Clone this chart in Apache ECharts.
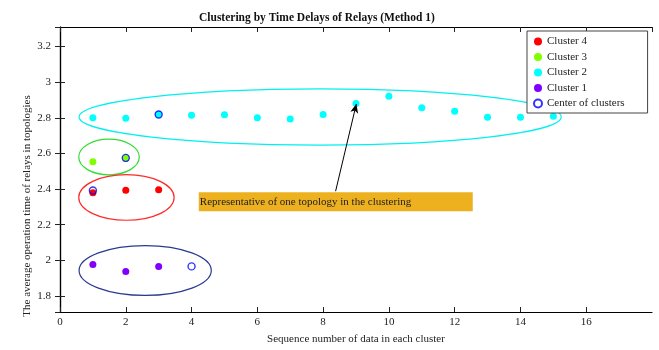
<!DOCTYPE html>
<html>
<head>
<meta charset="utf-8">
<script src="https://cdn.jsdelivr.net/npm/echarts@6/dist/echarts.min.js"></script>
<style>
  html, body { margin: 0; padding: 0; background: #fff; }
  #chart { width: 659px; height: 350px; }
</style>
</head>
<body>
<div id="chart"></div>
<script>
// sequence numbers and average operation times
const cluster4 = [[1, 2.379], [2, 2.393], [3, 2.397]];
const cluster3 = [[1, 2.553], [2, 2.575]];
const cluster2 = [
  [1, 2.800], [2, 2.798], [3, 2.819], [4, 2.815], [5, 2.817],
  [6, 2.800], [7, 2.794], [8, 2.819], [9, 2.880], [10, 2.921],
  [11, 2.856], [12, 2.837], [13, 2.803], [14, 2.803], [15, 2.809]
];
const cluster1 = [[1, 1.976], [2, 1.938], [3, 1.966]];
const centers = [[1, 2.392], [2, 2.575], [3, 2.819], [4, 1.966]];

// ellipses around clusters: [cx, cy, rx, ry, colour]
const ellipses = [
  [7.91, 2.805, 7.33, 0.158, "#00f0f0"],
  [1.49, 2.58, 0.92, 0.1, "#33dd33"],
  [2.02, 2.353, 1.45, 0.128, "#ff2a2a"],
  [2.59, 1.943, 2.01, 0.14, "#2b3a8f"]
];
// annotation box [x0, y0, x1, y1] and arrow tail/head
const noteBox = [[4.22, 2.382, 12.55, 2.275]];
const noteText = "Representative of one topology in the clustering";
const arrowFrom = [8.38, 2.388];
const arrowTo = [9.01, 2.878];

const xTicks = { min: 0, max: 18, interval: 2 };
const yTicks = { min: 1.71, max: 3.31, splitNumber: 8 };

const serif = "Liberation Serif, Times New Roman, serif";
const chart = echarts.init(document.getElementById("chart"));

const dot = (name, data, color) => ({
  name: name,
  type: "scatter",
  data: data,
  symbol: "circle",
  symbolSize: 7,
  itemStyle: { color: color, opacity: 1 },
  z: 3
});

chart.setOption({
  animation: false,
  title: {
    text: "Clustering by Time Delays of Relays (Method 1)",
    left: 194,
    top: 7,
    textStyle: { fontFamily: serif, fontSize: 11.5, fontWeight: "bold", color: "#111" }
  },
  legend: {
    orient: "vertical",
    left: 527,
    top: 31,
    padding: [5, 23, 4, 6],
    itemGap: 4.5,
    itemWidth: 8,
    itemHeight: 8,
    backgroundColor: "#fff",
    borderColor: "#444",
    borderWidth: 1,
    z: 10,
    icon: "circle",
    textStyle: { fontFamily: serif, fontSize: 11, color: "#222", padding: [0, 0, 0, 0] },
    data: ["Cluster 4", "Cluster 3", "Cluster 2", "Cluster 1", "Center of clusters"]
  },
  grid: { left: 60, right: 7, top: 27, bottom: 38 },
  graphic: [{
    type: "text",
    x: 27,
    y: 206,
    rotation: Math.PI / 2,
    style: {
      text: "The average operation time of relays in topologies",
      font: "11px " + serif,
      fill: "#222",
      align: "center",
      verticalAlign: "middle"
    }
  }],
  xAxis: [{
    type: "value",
    min: xTicks.min,
    max: xTicks.max,
    interval: xTicks.interval,
    name: "Sequence number of data in each cluster",
    nameLocation: "middle",
    nameGap: 22,
    nameTextStyle: { fontFamily: serif, fontSize: 11, color: "#222" },
    axisLine: { lineStyle: { color: "#000", width: 1.2 } },
    axisTick: { inside: true, length: 5, lineStyle: { color: "#222" } },
    axisLabel: { fontFamily: serif, fontSize: 11, color: "#222", margin: 5, showMaxLabel: false },
    splitLine: { show: false }
  }, {
    type: "value",
    position: "top",
    min: xTicks.min,
    max: xTicks.max,
    interval: xTicks.interval,
    axisLine: { show: true, lineStyle: { color: "#000", width: 1.2 } },
    axisTick: { inside: true, length: 5, lineStyle: { color: "#222" } },
    axisLabel: { show: false },
    splitLine: { show: false }
  }],
  yAxis: [{
    type: "value",
    min: yTicks.min,
    max: yTicks.max,
    splitNumber: yTicks.splitNumber,
    axisLine: { show: true, lineStyle: { color: "#000", width: 1.2 } },
    axisTick: { inside: true, length: 5, lineStyle: { color: "#222" } },
    axisLabel: { fontFamily: serif, fontSize: 11, color: "#222", margin: 9, showMinLabel: false, showMaxLabel: false },
    splitLine: { show: false }
  }, {
    type: "value",
    position: "right",
    min: yTicks.min,
    max: yTicks.max,
    splitNumber: yTicks.splitNumber,
    axisLine: { show: true, lineStyle: { color: "#000", width: 1.2 } },
    axisTick: { inside: true, length: 5, lineStyle: { color: "#222" } },
    axisLabel: { show: false },
    splitLine: { show: false }
  }],
  series: [
    {
      name: "ellipses",
      type: "custom",
      data: ellipses,
      silent: true,
      z: 2,
      renderItem: function (params, api) {
        const c = api.coord([api.value(0), api.value(1)]);
        const s = api.size([api.value(2), api.value(3)]);
        return {
          type: "ellipse",
          shape: { cx: c[0], cy: c[1], rx: s[0], ry: s[1] },
          style: { fill: "none", stroke: ellipses[params.dataIndex][4], lineWidth: 1.2 }
        };
      }
    },
    {
      name: "note",
      type: "custom",
      data: noteBox,
      silent: true,
      z: 2,
      renderItem: function (params, api) {
        const p0 = api.coord([api.value(0), api.value(1)]);
        const p1 = api.coord([api.value(2), api.value(3)]);
        return {
          type: "group",
          children: [{
            type: "rect",
            shape: { x: p0[0], y: p0[1], width: p1[0] - p0[0], height: p1[1] - p0[1] },
            style: { fill: "#edb120" }
          }, {
            type: "text",
            x: p0[0] + 1,
            y: (p0[1] + p1[1]) / 2,
            style: { text: noteText, font: "11px " + serif, fill: "#222", verticalAlign: "middle" }
          }]
        };
      }
    },
    dot("Cluster 4", cluster4, "#ff0000"),
    dot("Cluster 3", cluster3, "#80ff00"),
    dot("Cluster 2", cluster2, "#00ffff"),
    dot("Cluster 1", cluster1, "#8000ff"),
    {
      name: "Center of clusters",
      type: "scatter",
      data: centers,
      symbol: "circle",
      symbolSize: 7,
      itemStyle: { color: "rgba(255,255,255,0)", borderColor: "#0000ff", borderWidth: 1.4 },
      z: 4,
      markLine: {
        silent: true,
        symbol: ["none", "arrow"],
        symbolSize: [6, 9],
        label: { show: false },
        lineStyle: { color: "#000", width: 1, type: "solid" },
        data: [[{ coord: arrowFrom }, { coord: arrowTo }]]
      }
    }
  ]
});
</script>
</body>
</html>
